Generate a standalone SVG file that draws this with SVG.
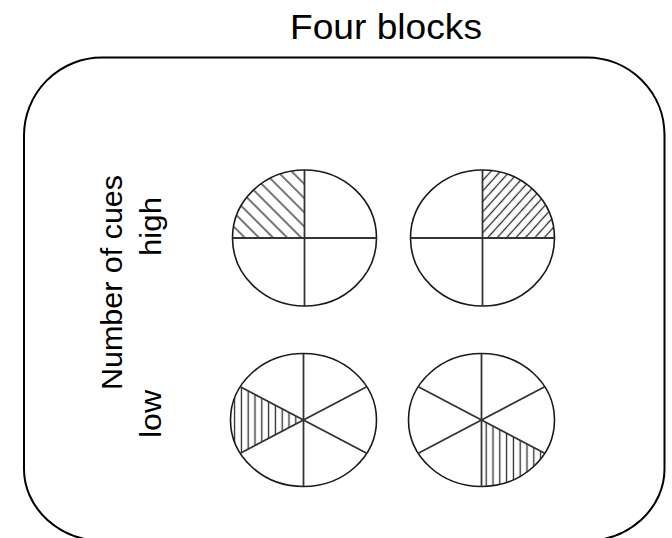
<svg xmlns="http://www.w3.org/2000/svg" width="672" height="538" viewBox="0 0 672 538">
  <style>
    .lbl { font-family: "Liberation Sans", Arial, sans-serif; fill: #000; }
    .outline { fill: none; stroke: #1a1a1a; stroke-width: 1.6; }
    .div { fill: none; stroke: #333; stroke-width: 1.8; }
    .frame { fill: none; stroke: #000; stroke-width: 2; }
  </style>
  <defs>
    <pattern id="hatchBack" width="10" height="10" patternUnits="userSpaceOnUse" patternTransform="rotate(-45)">
      <line x1="5" y1="0" x2="5" y2="10" stroke="#2a2a2a" stroke-width="1.3"/>
    </pattern>
    <pattern id="hatchFwd" width="7" height="7" patternUnits="userSpaceOnUse" patternTransform="rotate(42)">
      <line x1="3.5" y1="0" x2="3.5" y2="7" stroke="#2a2a2a" stroke-width="1.3"/>
    </pattern>
    <pattern id="hatchVert" width="6.8" height="10" patternUnits="userSpaceOnUse">
      <line x1="3.4" y1="0" x2="3.4" y2="10" stroke="#2a2a2a" stroke-width="1.3"/>
    </pattern>
  </defs>

  <g id="title">
    <text class="lbl" x="386" y="39" font-size="35" text-anchor="middle" textLength="192" lengthAdjust="spacingAndGlyphs">Four blocks</text>
  </g>

  <g id="frame">
    <path class="frame" d="M102,57.5 L587,57.5 A77.5,77.5 0 0 1 664.5,135 L664.5,469 A80,72 0 0 1 584.5,541 L104,541 A80,72 0 0 1 24,469 L24,135.5 A78,78 0 0 1 102,57.5 Z"/>
  </g>

  <g id="axis-labels">
    <text class="lbl" transform="translate(122,282.5) rotate(-90)" font-size="29" text-anchor="middle" textLength="215" lengthAdjust="spacingAndGlyphs">Number of cues</text>
    <text class="lbl" transform="translate(161,226.5) rotate(-90)" font-size="29" text-anchor="middle" textLength="59" lengthAdjust="spacingAndGlyphs">high</text>
    <text class="lbl" transform="translate(161,414) rotate(-90)" font-size="29" text-anchor="middle" textLength="48" lengthAdjust="spacingAndGlyphs">low</text>
  </g>

  <g id="circle-high-left">
    <path d="M304.5,238 L232.5,238 A72,68 0 0 1 304.5,170 Z" fill="url(#hatchBack)"/>
    <ellipse class="outline" cx="304.5" cy="238" rx="72" ry="68"/>
    <line class="div" x1="304.5" y1="170" x2="304.5" y2="306"/>
    <line class="div" x1="232.5" y1="238" x2="376.5" y2="238"/>
  </g>

  <g id="circle-high-right">
    <path d="M482.5,238 L482.5,170 A72,68 0 0 1 554.5,238 Z" fill="url(#hatchFwd)"/>
    <ellipse class="outline" cx="482.5" cy="238" rx="72" ry="68"/>
    <line class="div" x1="482.5" y1="170" x2="482.5" y2="306"/>
    <line class="div" x1="410.5" y1="238" x2="554.5" y2="238"/>
  </g>

  <g id="circle-low-left">
    <path d="M303.5,420 L240.3,386.75 A73,66.5 0 0 0 240.3,453.25 Z" fill="url(#hatchVert)"/>
    <ellipse class="outline" cx="303.5" cy="420" rx="73" ry="66.5"/>
    <line class="div" x1="303.5" y1="353.5" x2="303.5" y2="486.5"/>
    <line class="div" x1="240.3" y1="386.75" x2="366.7" y2="453.25"/>
    <line class="div" x1="240.3" y1="453.25" x2="366.7" y2="386.75"/>
  </g>

  <g id="circle-low-right">
    <path d="M481.5,420 L481.5,486.5 A73,66.5 0 0 0 544.7,453.25 Z" fill="url(#hatchVert)"/>
    <ellipse class="outline" cx="481.5" cy="420" rx="73" ry="66.5"/>
    <line class="div" x1="481.5" y1="353.5" x2="481.5" y2="486.5"/>
    <line class="div" x1="418.3" y1="386.75" x2="544.7" y2="453.25"/>
    <line class="div" x1="418.3" y1="453.25" x2="544.7" y2="386.75"/>
  </g>
</svg>
